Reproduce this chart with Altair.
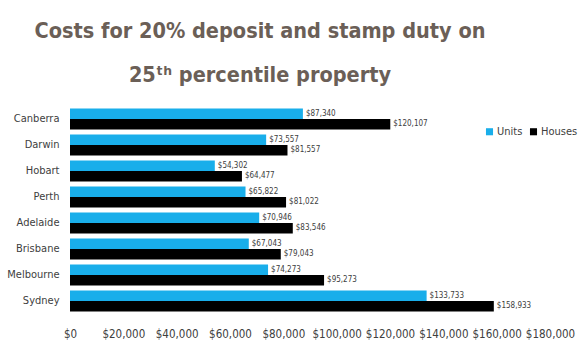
import altair as alt
import pandas as pd

cities = ["Canberra", "Darwin", "Hobart", "Perth", "Adelaide", "Brisbane", "Melbourne", "Sydney"]
units = [87340, 73557, 54302, 65822, 70946, 67043, 74273, 133733]
houses = [120107, 81557, 64477, 81022, 83546, 79043, 95273, 158933]
series = ["Units", "Houses"]
x_ticks = [0, 20000, 40000, 60000, 80000, 100000, 120000, 140000, 160000, 180000]

rows = []
for c, u, h in zip(cities, units, houses):
    rows.append({"city": c, "series": "Units", "value": u})
    rows.append({"city": c, "series": "Houses", "value": h})
df = pd.DataFrame(rows)

FONT = "'DejaVu Sans Condensed', 'Roboto Condensed', Roboto, sans-serif"

y_enc = alt.Y("city:N", sort=cities, title=None,
              scale=alt.Scale(paddingInner=0.2, paddingOuter=0.1),
              axis=alt.Axis(ticks=False, domain=False, labelFont=FONT, labelFontSize=11,
                            labelColor="#404040", labelPadding=11))
yoff = alt.YOffset("series:N", sort=series, scale=alt.Scale(domain=series))
x_enc = alt.X("value:Q", title=None,
              scale=alt.Scale(domain=[0, 180000]),
              axis=alt.Axis(values=x_ticks, format="$,.0f", grid=False, ticks=False, domain=False,
                            labelFont=FONT, labelFontSize=11.5, labelColor="#404040",
                            labelPadding=14, labelFlush=False))

base = alt.Chart(df)

bars = base.mark_bar().encode(
    x=x_enc, y=y_enc, yOffset=yoff,
    color=alt.Color("series:N", sort=series,
                    scale=alt.Scale(domain=series, range=["#19aeea", "#000000"]),
                    legend=alt.Legend(title=None, orient="none", legendX=414, legendY=20,
                                      direction="horizontal", symbolType="square", symbolSize=50,
                                      labelFont=FONT, labelFontSize=11, labelColor="#404040",
                                      columnPadding=5, symbolOffset=0, labelOffset=2)),
)

labels = base.mark_text(align="left", baseline="middle", dx=3, font=FONT, fontSize=8,
                        color="#404040").encode(
    x="value:Q", y=alt.Y("city:N", sort=cities), yOffset=yoff,
    text=alt.Text("value:Q", format="$,.0f"),
)

chart = alt.layer(bars, labels).properties(
    width=480, height=208,
    autosize=alt.AutoSizeParams(type="none"),
    padding={"left": 70, "top": 106, "right": 30, "bottom": 38},
    background="white",
    title=alt.TitleParams(
        text=["Costs for 20% deposit and stamp duty on", "25ᵗʰ percentile property"],
        font=FONT, fontSize=21.5, fontWeight="bold", color="#6b5f57",
        anchor="middle", dx=-50, offset=20, lineHeight=44,
    ),
).configure_view(stroke="transparent", strokeWidth=0)

chart.save("out.html", embed_options={"renderer": "svg", "actions": False})
